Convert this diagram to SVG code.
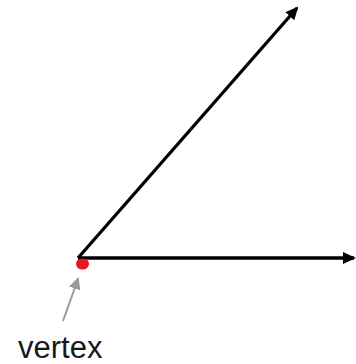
<svg xmlns="http://www.w3.org/2000/svg" width="356" height="364" viewBox="0 0 356 364">
<defs>
<marker id="ah" markerWidth="13" markerHeight="12" refX="11" refY="6" orient="auto" markerUnits="userSpaceOnUse"><path d="M0,0 L13,6 L0,12 Z" fill="#000"/></marker>
<marker id="ahg" markerWidth="12" markerHeight="12" refX="10" refY="6" orient="auto" markerUnits="userSpaceOnUse"><path d="M0,0 L12,6 L0,12 Z" fill="#9a9a9a"/></marker>
</defs>
<style>
.ray{stroke:#000;stroke-width:3.3;fill:none}
.lbl{font-family:"Liberation Sans",Arial,sans-serif;font-size:31px;fill:#1a1a1a}
</style>
<rect width="356" height="364" fill="#fff"/>
<g id="connectors">
<line class="ray" x1="78" y1="258" x2="354" y2="258" marker-end="url(#ah)"/>
<line class="ray" x1="78" y1="258" x2="297" y2="8" marker-end="url(#ah)"/>
<line x1="63" y1="321" x2="78" y2="279" stroke="#9a9a9a" stroke-width="2" marker-end="url(#ahg)"/>
</g>
<g id="vertex">
<ellipse cx="82.5" cy="264" rx="6.5" ry="5.5" fill="#e8141e"/>
<text class="lbl" x="18" y="358">vertex</text>
</g>
</svg>
